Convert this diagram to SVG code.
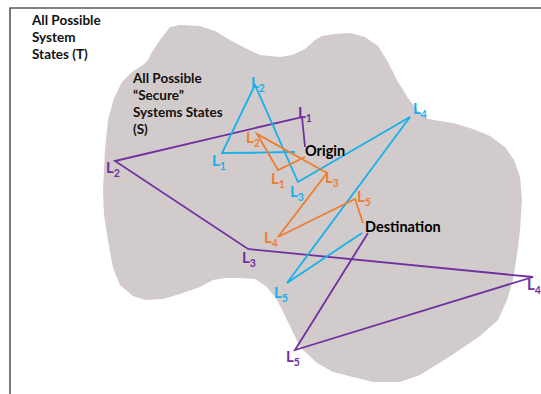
<svg xmlns="http://www.w3.org/2000/svg" width="541" height="394" viewBox="0 0 541 394">
  <style>
    .frame { fill: none; stroke: #5a5a5a; stroke-width: 1.6; }
    .region { fill: #d1cbcb; stroke: none; }
    .path { fill: none; stroke-width: 1.8; stroke-linejoin: miter; }
    .purple { stroke: #7030a0; }
    .blue { stroke: #16b0ea; }
    .orange { stroke: #ee7d31; }
    text { font-family: Lato, "Open Sans", "Liberation Sans", sans-serif; font-weight: 700; }
    .title { font-size: 13.5px; fill: #111; }
    .endpoint { font-size: 14.5px; fill: #000; }
    .lbl { font-size: 15px; }
    .lbl tspan.sub { font-size: 10.5px; }
    .lp { fill: #7030a0; }
    .lb { fill: #16b0ea; }
    .lo { fill: #ee7d31; }
  </style>

  <!-- outer set T: frame -->
  <g id="set-T">
    <path class="frame" d="M10,394 V8 H541"/>
    <text class="title" x="32" y="25">All Possible</text>
    <text class="title" x="32" y="42">System</text>
    <text class="title" x="32" y="59">States (T)</text>
  </g>

  <!-- inner set S: secure states region -->
  <g id="set-S">
    <path class="region" d="M170,27 L180,25 L200,26 L215,31 L230,40 L247,49 L260,55 L280,57 L292,55 L305,49 L315,40 L322,36 L335,34 L350,33 L365,37 L378,46 L388,62 L398,82 L408,98 L418,111 L428,119 L440,121 L453,123 L473,129 L490,136 L505,147 L514,160 L520,177 L522,200 L520,230 L517,255 L513,280 L507,300 L498,320 L480,336 L452,355 L420,375 L400,382 L373,382 L357,378 L333,372 L317,363 L300,347 L287,320 L277,300 L267,287 L255,279 L240,278 L225,278 L213,280 L200,287 L180,294 L163,299 L145,300 L133,296 L120,285 L113,268 L108,240 L104,215 L103,190 L105,150 L108,120 L114,98 L122,82 L132,72 L143,65 L148,60 L152,52 L160,40 Z"/>
    <text class="title" x="133" y="83">All Possible</text>
    <text class="title" x="133" y="100">“Secure”</text>
    <text class="title" x="133" y="117">Systems States</text>
    <text class="title" x="133" y="134">(S)</text>
  </g>

  <!-- trajectories from origin to destination -->
  <g id="connectors">
    <polyline class="path purple" points="305,147 302,117 115,161 248,249 533,277 295,350 368,233"/>
    <polyline class="path blue" points="295,152 222,153 255,85 298,182 410,117 287,283 362,233"/>
    <polyline class="path orange" points="305,157 278,170 257,134 327,173 278,237 355,199 363,223"/>
  </g>

  <g id="origin">
    <text class="endpoint" x="305" y="156">Origin</text>
  </g>
  <g id="destination">
    <text class="endpoint" x="365" y="232">Destination</text>
  </g>

  <!-- purple waypoint labels -->
  <g id="purple-labels" class="lbl lp">
    <text x="298" y="118">L<tspan class="sub" dy="4">1</tspan></text>
    <text x="106" y="173">L<tspan class="sub" dy="4">2</tspan></text>
    <text x="242" y="263">L<tspan class="sub" dy="4">3</tspan></text>
    <text x="527" y="290">L<tspan class="sub" dy="4">4</tspan></text>
    <text x="286" y="362">L<tspan class="sub" dy="4">5</tspan></text>
  </g>

  <!-- blue waypoint labels -->
  <g id="blue-labels" class="lbl lb">
    <text x="212" y="166">L<tspan class="sub" dy="4">1</tspan></text>
    <text x="251" y="88">L<tspan class="sub" dy="4">2</tspan></text>
    <text x="290" y="197">L<tspan class="sub" dy="4">3</tspan></text>
    <text x="413" y="114">L<tspan class="sub" dy="4">4</tspan></text>
    <text x="274" y="298">L<tspan class="sub" dy="4">5</tspan></text>
  </g>

  <!-- orange waypoint labels -->
  <g id="orange-labels" class="lbl lo">
    <text x="271" y="184">L<tspan class="sub" dy="4">1</tspan></text>
    <text x="246" y="143">L<tspan class="sub" dy="4">2</tspan></text>
    <text x="325" y="183">L<tspan class="sub" dy="4">3</tspan></text>
    <text x="264" y="243">L<tspan class="sub" dy="4">4</tspan></text>
    <text x="357" y="202">L<tspan class="sub" dy="4">5</tspan></text>
  </g>
</svg>
